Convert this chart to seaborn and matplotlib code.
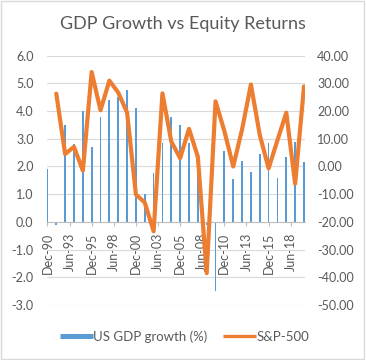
import matplotlib
matplotlib.use("Agg")
import matplotlib.pyplot as plt
import seaborn as sns
import numpy as np
import pandas as pd
from matplotlib.lines import Line2D
from matplotlib.patches import Rectangle

# ---- data ----
years = list(range(1990, 2020))
gdp_growth = [1.9, -0.1, 3.5, 2.8, 4.0, 2.7, 3.8, 4.4, 4.5, 4.75,
              4.1, 1.0, 1.75, 2.85, 3.8, 3.5, 2.85, 1.9, -0.1, -2.5,
              2.55, 1.55, 2.2, 1.8, 2.45, 2.85, 1.6, 2.35, 2.9, 2.15]
sp500 = [np.nan, 26.3, 4.5, 7.1, -1.5, 34.1, 20.3, 31.0, 26.7, 19.5,
         -10.1, -13.0, -23.4, 26.4, 9.0, 3.0, 13.6, 3.5, -38.5, 23.5,
         12.8, 0.0, 13.4, 29.6, 11.4, -0.7, 9.5, 19.4, -6.2, 28.9]
tick_labels = ["Dec-90", "Jun-93", "Dec-95", "Jun-98", "Dec-00", "Jun-03",
               "Dec-05", "Jun-08", "Dec-10", "Jun-13", "Dec-15", "Jun-18"]

# month index (0 = Jan-1990); data points sit in December of each year
months = [(y - 1990) * 12 + 11 for y in years]
tick_pos = [11 + 30 * i for i in range(len(tick_labels))]
df = pd.DataFrame({"m": months, "gdp": gdp_growth, "sp": sp500})

BLUE = "#5B9BD5"
ORANGE = "#ED7D31"
TXT = "#595959"
GRID = "#D9D9D9"

sns.set_style("white")
plt.rcParams["font.family"] = ["Lato", "DejaVu Sans"]

fig = plt.figure(figsize=(3.66, 3.60), dpi=100)
ax = fig.add_axes([0.1276, 0.1528, 0.705, 0.6925])

sns.barplot(data=df, x="m", y="gdp", native_scale=True, color=BLUE,
            width=0.2, ax=ax, saturation=1, linewidth=0)
for p in ax.patches:
    p.set_antialiased(False)
    p.set_edgecolor("none")
    p.set_facecolor(BLUE)
ax.set_xlim(10, 360)
ax.set_ylim(-3, 6)
ax.set_yticks(np.arange(-3, 6.01, 1))
ax.set_yticklabels([f"{v:.1f}" for v in np.arange(-3, 6.01, 1)])
ax.yaxis.grid(True, color=GRID, linewidth=0.8)
ax.set_axisbelow(True)
for s in ["top", "left", "right"]:
    ax.spines[s].set_visible(False)
ax.spines["bottom"].set_position(("data", 0))
ax.spines["bottom"].set_color("#BFBFBF")
ax.spines["bottom"].set_linewidth(0.8)
ax.set_xticks(tick_pos)
ax.set_xticklabels(tick_labels, rotation=90)
ax.tick_params(axis="x", length=3, width=0.8, color="#BFBFBF", pad=5,
               labelsize=9, labelcolor=TXT, bottom=True)
ax.tick_params(axis="y", length=0, labelsize=9, labelcolor=TXT, pad=9.5)
ax.set_xlabel("")
ax.set_ylabel("")

ax2 = ax.twinx()
sns.lineplot(data=df, x="m", y="sp", color=ORANGE, linewidth=3, ax=ax2)
ax2.set_ylim(-50, 40)
ax2.set_yticks(np.arange(-50, 40.1, 10))
ax2.set_yticklabels([f"{v:.2f}" for v in np.arange(-50, 40.1, 10)])
ax2.tick_params(axis="y", length=0, labelsize=9, labelcolor=TXT, pad=9)
for s in ax2.spines.values():
    s.set_visible(False)
ax2.set_ylabel("")
ax2.set_xlim(10, 360)

fig.suptitle("GDP Growth vs Equity Returns", x=0.5, y=0.955, fontsize=13,
             color=TXT)

handles = [Line2D([0], [0], color=BLUE, linewidth=3.6, solid_capstyle="butt"),
           Line2D([0], [0], color=ORANGE, linewidth=2.4, solid_capstyle="butt")]
fig.legend(handles, ["US GDP growth (%)", "S&P-500"], loc="center",
           bbox_to_anchor=(0.505, 0.065), ncol=2, frameon=False, fontsize=9.5,
           labelcolor=TXT, handlelength=2.5, handletextpad=0.0,
           columnspacing=1.2)

fig.patches.append(Rectangle((0.003, 0.004), 0.992, 0.992,
                             transform=fig.transFigure, fill=False,
                             edgecolor=GRID, linewidth=1))

fig.savefig("out.png", dpi=100)
